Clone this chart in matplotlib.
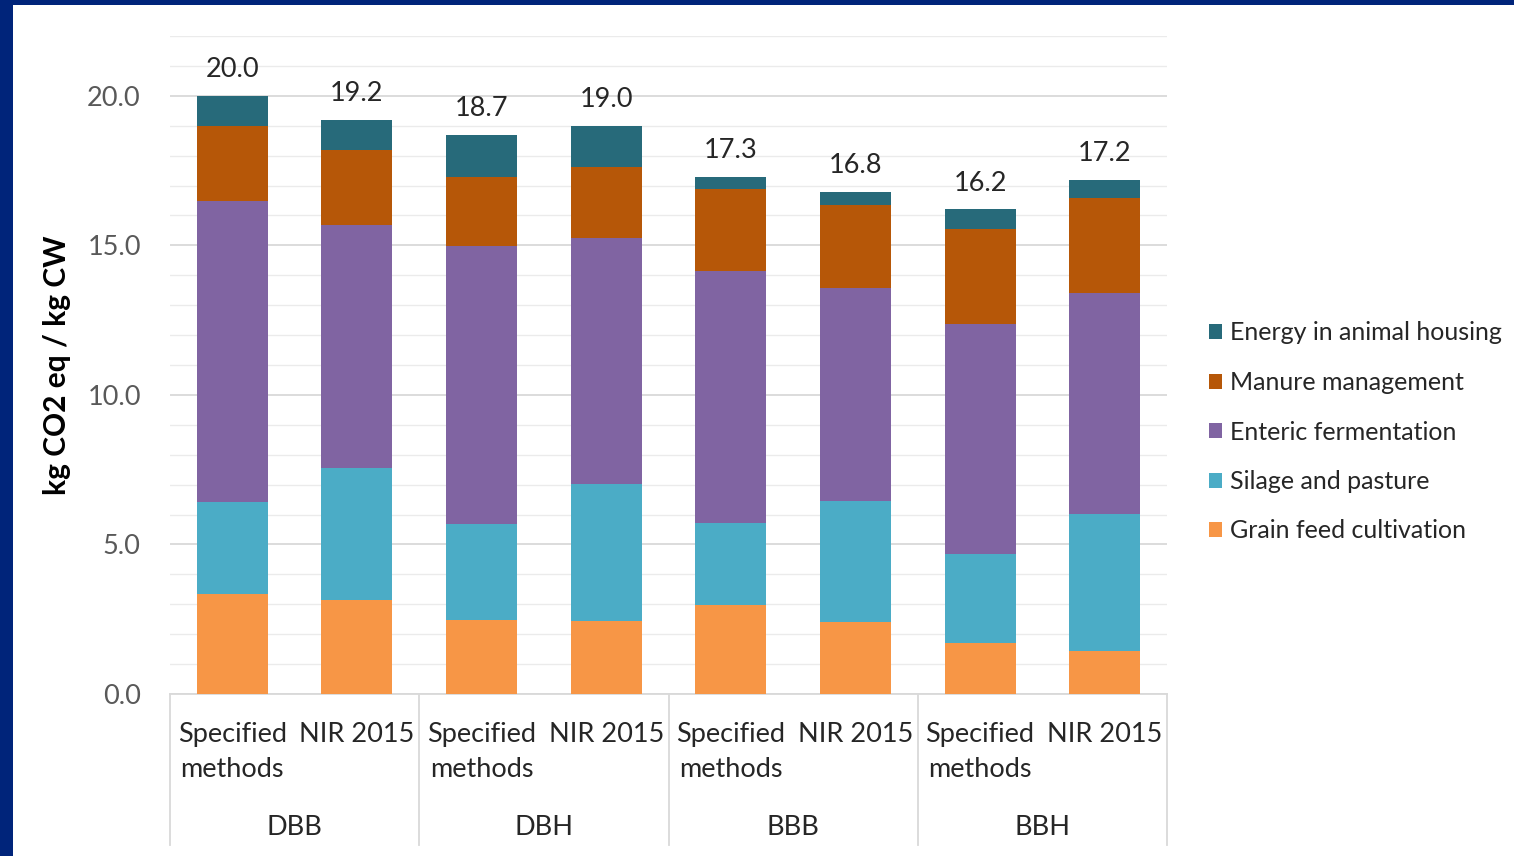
import matplotlib
matplotlib.use("Agg")
import matplotlib.pyplot as plt
from matplotlib.patches import Rectangle
from matplotlib.ticker import MultipleLocator, FormatStrFormatter
import numpy as np

plt.rcParams['font.family'] = ['Lato', 'DejaVu Sans']

groups = ["DBB", "DBH", "BBB", "BBH"]
methods = ["Specified\nmethods", "NIR 2015"]

# Emission sources, stacked bottom to top (kg CO2 eq / kg CW)
grain   = [3.34, 3.14, 2.47, 2.44, 2.98, 2.41, 1.71, 1.44]
silage  = [3.08, 4.42, 3.22, 4.58, 2.74, 4.04, 2.97, 4.58]
enteric = [10.07, 8.13, 9.29, 8.23, 8.43, 7.13, 7.69, 7.39]
manure  = [2.51, 2.50, 2.31, 2.38, 2.74, 2.77, 3.18, 3.18]
energy  = [1.00, 1.01, 1.41, 1.37, 0.41, 0.45, 0.65, 0.61]

series = [
    ("Grain feed cultivation", grain, "#F79646"),
    ("Silage and pasture", silage, "#4BACC6"),
    ("Enteric fermentation", enteric, "#8064A2"),
    ("Manure management", manure, "#B65708"),
    ("Energy in animal housing", energy, "#276A7A"),
]

FS = 19.5
TXT = "#262626"

W, H = 1514, 856
fig = plt.figure(figsize=(W / 100, H / 100), dpi=100)
fig.patch.set_facecolor("#00247A")
fig.add_artist(Rectangle((13 / W, 0), 1 - 13 / W, 1 - 5 / H,
                         transform=fig.transFigure, facecolor="white",
                         edgecolor="none", zorder=0))

ax = fig.add_axes([170 / W, 162 / H, 997 / W, 658 / H])
ax.set_facecolor("none")

n = len(grain)
x = np.arange(n)
bottom = np.zeros(n)
handles = []
for name, vals, color in series:
    b = ax.bar(x, vals, width=0.57, bottom=bottom, color=color,
               edgecolor="none", label=name, zorder=3)
    handles.append(b)
    bottom += np.array(vals)

totals = bottom
for xi, t in zip(x, totals):
    ax.text(xi, t + 0.45, f"{t:.1f}", ha="center", va="bottom",
            fontsize=FS, color=TXT, zorder=4)

ax.set_xlim(-0.5, n - 0.5)
ax.set_ylim(0, 22)
ax.yaxis.set_major_locator(MultipleLocator(5))
ax.yaxis.set_minor_locator(MultipleLocator(1))
ax.yaxis.set_major_formatter(FormatStrFormatter("%.1f"))
ax.grid(axis="y", which="major", color="#D9D9D9", linewidth=1.3, zorder=0)
ax.grid(axis="y", which="minor", color="#EBEBEB", linewidth=1.0, zorder=0)
ax.tick_params(axis="y", which="both", length=0, pad=21, labelsize=FS,
               labelcolor="#595959")
ax.tick_params(axis="x", length=0, labelbottom=False)
for s in ["top", "right", "left"]:
    ax.spines[s].set_visible(False)
ax.spines["bottom"].set_color("#D9D9D9")
ax.spines["bottom"].set_linewidth(1.3)

ax.set_ylabel("kg CO2 eq / kg CW", fontsize=21.5, fontweight="bold",
              color="black", labelpad=12)

# Two-level category axis below the plot
trans = ax.get_xaxis_transform()
for i in range(n):
    ax.text(x[i], -0.042, methods[i % 2], transform=trans, ha="center",
            va="top", fontsize=FS, color=TXT, linespacing=1.5,
            multialignment="center", clip_on=False)
for g, name in enumerate(groups):
    ax.text(2 * g + 0.5, -0.203, name, transform=trans, ha="center",
            va="center", fontsize=FS, color=TXT, clip_on=False)
for k in range(len(groups) + 1):
    ax.plot([2 * k - 0.5, 2 * k - 0.5], [0, -0.23], transform=trans,
            color="#D9D9D9", linewidth=1.3, clip_on=False)

leg = fig.legend(handles=handles[::-1], loc="center left",
                 bbox_to_anchor=(1186 / W, 424 / H), frameon=False,
                 fontsize=18, handlelength=0.55, handleheight=0.55,
                 handletextpad=0.32, labelspacing=1.06)
for t in leg.get_texts():
    t.set_color(TXT)

fig.savefig("out.png", dpi=100, facecolor=fig.get_facecolor())
